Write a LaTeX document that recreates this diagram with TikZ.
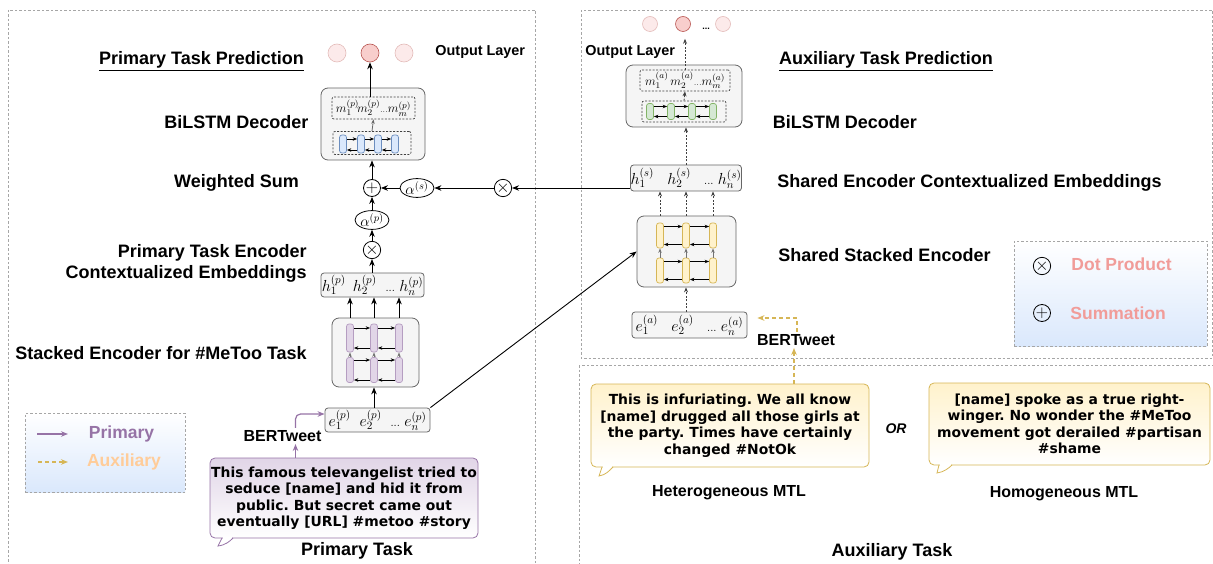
\RequirePackage{fix-cm}
\documentclass[tikz,border=0pt]{standalone}
\usepackage{fontspec}
\setmainfont{Liberation Sans}
\newfontfamily\tweetfont{DejaVu Sans}
\usetikzlibrary{shapes.geometric}
\usetikzlibrary{arrows.meta}

\definecolor{primLine}{HTML}{9673A6}
\definecolor{primFill}{HTML}{E1D5E7}
\definecolor{auxLine}{HTML}{D6B656}
\definecolor{auxFill}{HTML}{FFF2CC}
\definecolor{auxText}{HTML}{FFCC99}
\definecolor{blueFill}{HTML}{DAE8FC}
\definecolor{blueLine}{HTML}{6C8EBF}
\definecolor{greenFill}{HTML}{D5E8D4}
\definecolor{greenLine}{HTML}{82B366}
\definecolor{blockFill}{HTML}{F5F5F5}
\definecolor{blockLine}{HTML}{666666}
\definecolor{outFill}{HTML}{F8CECC}
\definecolor{outLine}{HTML}{B85450}
\definecolor{outLight}{HTML}{FCEAEA}
\definecolor{opText}{HTML}{F19C99}
\definecolor{panelLine}{HTML}{A6A6A6}

\tikzset{
  panel/.style={draw=panelLine, line width=0.6pt, dash pattern=on 2.5pt off 2pt},
  block/.style={draw=blockLine, fill=blockFill, rounded corners=7, line width=0.8pt},
  vecbox/.style={draw=blockLine, fill=blockFill, rounded corners=3, line width=0.8pt, inner sep=0, font=\fontsize{16}{16}\selectfont},
  inbox/.style={draw=black!75, line width=0.7pt, dash pattern=on 2pt off 1.5pt, rounded corners=2, inner sep=0},
  lstmcell/.style={rounded corners=2.5, line width=0.7pt, minimum width=7, inner sep=0},
  pcell/.style={lstmcell, draw=primLine!70, fill=primFill},
  ycell/.style={lstmcell, draw=auxLine, fill=auxFill},
  bcell/.style={lstmcell, draw=blueLine, fill=blueFill},
  gcell/.style={lstmcell, draw=greenLine, fill=greenFill},
  outdot/.style={circle, draw=outLine!40, fill=outLight, line width=0.6pt, inner sep=0, minimum size=18},
  outhot/.style={outdot, draw=outLine, fill=outFill},
  opnode/.style={circle, draw, line width=0.8pt, inner sep=0, minimum size=17, font=\fontsize{17}{17}\selectfont},
  wnode/.style={ellipse, draw, line width=0.8pt, inner sep=0, minimum width=34, minimum height=17, font=\fontsize{15}{15}\selectfont},
  lbl/.style={font=\bfseries\fontsize{18}{21}\selectfont, inner sep=0},
  mid lbl/.style={font=\bfseries\fontsize{16}{18}\selectfont, inner sep=0},
  small lbl/.style={font=\bfseries\fontsize{14.4}{16}\selectfont, inner sep=0},
  key lbl/.style={font=\bfseries\fontsize{17.5}{20}\selectfont, inner sep=0},
  tweet/.style={rounded corners=5, line width=0.8pt, align=center, inner sep=0, font=\tweetfont\bfseries\frenchspacing\fontsize{13.9}{16.5}\selectfont},
  ptweet/.style={tweet, draw=primLine, top color=primFill, bottom color=white},
  atweet/.style={tweet, draw=auxLine, top color=auxFill, bottom color=white},
  keybox/.style={draw=panelLine, dash pattern=on 2.5pt off 2pt, line width=0.7pt, top color=white, bottom color=blueFill},
  arr/.style={-{Stealth[length=7pt, width=5.5pt]}, line width=0.9pt},
  tiny arr/.style={-{Stealth[length=4.5pt, width=3.5pt]}, line width=0.8pt},
  dot arr/.style={-{Stealth[length=5pt, width=4pt]}, line width=0.8pt, black!75, dash pattern=on 2pt off 1.5pt},
  prim arr/.style={-{Stealth[length=7pt, width=5.5pt]}, draw=primLine, line width=1.2pt},
  aux arr/.style={-{Stealth[length=7pt, width=5.5pt]}, draw=auxLine, line width=1.2pt, dash pattern=on 4pt off 3pt},
}

\begin{document}
\begin{tikzpicture}[x=1pt, y=-1pt, line width=0.9pt]
\useasboundingbox (0,0) rectangle (1213,564);

    \draw[panel] (8,10) rectangle (535,590);
    \draw[panel] (581,10) rectangle (1212,358);
    \draw[panel] (579,365) rectangle (1214,590);

    % primary task side
    \node[lbl] (pTitle) at (201.5,61) {\underline{Primary Task Prediction}};
    \node[outdot] (pOut1) at (337,53) {};
    \node[outhot] (pOut2) at (370,53) {};
    \node[outdot] (pOut3) at (404,53) {};
    \node[small lbl, anchor=west] (pOutLbl) at (435,52) {Output Layer};

    \node[block, minimum width=104, minimum height=72] (pDec) at (373,124) {};
    \node[inbox, minimum width=83, minimum height=22, font=\fontsize{12.5}{12.5}\selectfont] (pDecOut) at (373.5,108) {$m_1^{(p)}\!m_2^{(p)}{\scriptstyle\dots}m_m^{(p)}$};
    \node[inbox, minimum width=78, minimum height=23] (pDecRnn) at (372,143) {};
    \foreach \i/\x in {1/343,2/361,3/378,4/395}
        \node[bcell, minimum height=18] (pd\i) at (\x,144) {};
    \foreach \i/\j in {1/2,2/3,3/4} {
        \draw[tiny arr] ([yshift=5]pd\i.east) -- ([yshift=5]pd\j.west);
        \draw[tiny arr] ([yshift=-6]pd\j.west) -- ([yshift=-6]pd\i.east);
    }
    \draw[tiny arr, black!60] (pDecRnn.north) -- (pDecOut.south);
    \draw[arr] (pOut2.south |- pDecOut.north) -- (pOut2.south);
    \node[lbl] (pDecLbl) at (236.5,122) {BiLSTM Decoder};

    \node[opnode] (pSum) at (372,188) {$+$};
    \node[lbl] (pSumLbl) at (236.5,183) {Weighted Sum};
    \draw[arr] (pSum) -- (pSum |- pDec.south);
    \node[wnode] (pAlpha) at (372,220) {$\alpha^{(p)}$};
    \draw[arr] (pAlpha) -- (pSum);
    \node[opnode] (pMul) at (372,250) {$\times$};
    \draw[arr] (pMul) -- (pAlpha);

    \node[lbl, anchor=east, align=right] (pHidLbl) at (307,263.5) {Primary Task Encoder\\Contextualized Embeddings};
    \node[vecbox, minimum width=103, minimum height=24] (pHid) at (372.5,285) {$h_1^{(p)}\;\, h_2^{(p)}\;\;{\scriptstyle\dots}\;h_n^{(p)}$};
    \draw[arr] (pMul |- pHid.north) -- (pMul);

    \node[block, minimum width=87, minimum height=69] (pEnc) at (375.5,352.5) {};
    \foreach \i/\x in {1/350,2/374,3/399} {
        \node[pcell, minimum height=28] (pa\i) at (\x,338) {};
        \node[pcell, minimum height=25] (pb\i) at (\x,370) {};
        \draw[tiny arr, black!55] (pb\i.north) -- (pa\i.south);
        \draw[arr] (pa\i |- pEnc.north) -- (pa\i |- pHid.south);
    }
    \foreach \i/\j in {1/2,2/3} {
        \draw[tiny arr] ([yshift=10]pa\i.east) -- ([yshift=10]pa\j.west);
        \draw[tiny arr] ([yshift=-10]pa\j.west) -- ([yshift=-10]pa\i.east);
        \draw[tiny arr] ([yshift=10]pb\i.east) -- ([yshift=10]pb\j.west);
        \draw[tiny arr] ([yshift=-10]pb\j.west) -- ([yshift=-10]pb\i.east);
    }
    \node[lbl] (pEncLbl) at (161,353) {Stacked Encoder for \#MeToo Task};

    \node[vecbox, minimum width=105, minimum height=24] (pEmb) at (377.5,420) {$e_1^{(p)}\;\; e_2^{(p)}\;\;{\scriptstyle\dots}\; e_n^{(p)}$};
    \draw[arr] (pa2 |- pEmb.north) -- (pa2 |- pEnc.south);

    \node[mid lbl] (pBert) at (282.5,436) {BERTweet};
    \coordinate (pBertS) at ([xshift=13]pBert.south);
    \coordinate (pBertN) at ([xshift=13]pBert.north);
    \node[ptweet, minimum width=268, minimum height=80] (pTweet) at (344,498) {This famous televangelist tried to\\seduce {[name]} and hid it from\\public. But secret came out\\eventually {[URL]} \#metoo \#story};
    \fill[white] (222.6,536.5) rectangle (232.4,539.5);
    \draw[draw=primLine, line width=0.8pt] (222,538) -- (218,546) .. controls (226,545) and (230,541) .. (233,538);
    \draw[prim arr, shorten >=2pt] (pBertS |- pTweet.north) -- (pBertS);
    \draw[prim arr, rounded corners=5, shorten <=2pt] (pBertN) |- ([yshift=6]pEmb.west);
    \node[lbl] (pTask) at (357,551) {Primary Task};

    \node[keybox, minimum width=160, minimum height=79] (lgPrim) at (105,452.5) {};
    \coordinate (lgPa) at (37,434);
    \coordinate (lgPb) at (68,434);
    \draw[prim arr] (lgPa) -- (lgPb);
    \node[key lbl, text=primLine] (lgPrimTxt) at (121.5,434) {Primary};
    \coordinate (lgAa) at (38,462);
    \coordinate (lgAb) at (68,462);
    \draw[aux arr] (lgAa) -- (lgAb);
    \node[key lbl, text=auxText] (lgAuxTxt) at (124,462) {Auxiliary};

    % auxiliary task side
    \node[outdot, minimum size=15] (aOut1) at (650,24) {};
    \node[outhot, minimum size=15] (aOut2) at (683,24) {};
    \node[outdot, minimum size=15] (aOut3) at (723,24) {};
    \node[font=\bfseries\fontsize{9}{9}\selectfont, inner sep=0] (aOutDots) at (706,29) {...};
    \node[small lbl, anchor=west] (aOutLbl) at (585,52) {Output Layer};
    \node[lbl] (aTitle) at (886,61) {\underline{Auxiliary Task Prediction}};

    \node[block, minimum width=116, minimum height=62] (aDec) at (684,96) {};
    \node[inbox, minimum width=90, minimum height=21, font=\fontsize{12.5}{12.5}\selectfont] (aDecOut) at (685,80.5) {$m_1^{(a)}\,m_2^{(a)}{\scriptstyle\dots}m_m^{(a)}$};
    \node[inbox, minimum width=84, minimum height=21] (aDecRnn) at (684,111.5) {};
    \foreach \i/\x in {1/650,2/671,3/692,4/713}
        \node[gcell, minimum height=16] (ad\i) at (\x,111.5) {};
    \foreach \i/\j in {1/2,2/3,3/4} {
        \draw[tiny arr] ([yshift=5]ad\i.east) -- ([yshift=5]ad\j.west);
        \draw[tiny arr] ([yshift=-5]ad\j.west) -- ([yshift=-5]ad\i.east);
    }
    \draw[dot arr] (aDecRnn.north) -- (aDecOut.south);
    \draw[dot arr, shorten >=7pt] (aDecOut.north) -- (aDecOut.north |- aOut2.south);
    \node[lbl] (aDecLbl) at (845,122) {BiLSTM Decoder};

    \node[vecbox, minimum width=110, minimum height=26] (aHid) at (686,178) {$h_1^{(s)}\;\;\; h_2^{(s)}\;\;\;{\scriptstyle\dots}\; h_n^{(s)}$};
    \draw[dot arr] (aHid.north) -- (aHid.north |- aDec.south);
    \node[lbl, anchor=west] (aHidLbl) at (777,183) {Shared Encoder Contextualized Embeddings};

    \node[block, minimum width=99, minimum height=71] (sEnc) at (686.5,251.5) {};
    \foreach \i/\x in {1/660,2/686,3/713} {
        \node[ycell, minimum height=25] (ya\i) at (\x,235.5) {};
        \node[ycell, minimum height=25] (yb\i) at (\x,270.5) {};
        \draw[tiny arr, black!55] (yb\i.north) -- (ya\i.south);
        \draw[dot arr] (ya\i |- sEnc.north) -- (ya\i |- aHid.south);
    }
    \foreach \i/\j in {1/2,2/3} {
        \draw[tiny arr] ([yshift=9]ya\i.east) -- ([yshift=9]ya\j.west);
        \draw[tiny arr] ([yshift=-9]ya\j.west) -- ([yshift=-9]ya\i.east);
        \draw[tiny arr] ([yshift=9]yb\i.east) -- ([yshift=9]yb\j.west);
        \draw[tiny arr] ([yshift=-9]yb\j.west) -- ([yshift=-9]yb\i.east);
    }
    \node[lbl, anchor=west] (sEncLbl) at (778,255) {Shared Stacked Encoder};

    \node[vecbox, minimum width=115, minimum height=26] (aEmb) at (689.5,325) {$e_1^{(a)}\;\;\; e_2^{(a)}\;\;\;{\scriptstyle\dots}\; e_n^{(a)}$};
    \draw[dot arr] (ya2 |- aEmb.north) -- (ya2 |- sEnc.south);
    \draw[arr] (pEmb.north east) -- (sEnc.west);

    \node[opnode] (sMul) at (503,188) {$\times$};
    \node[wnode] (sAlpha) at (417,188) {$\alpha^{(s)}$};
    \draw[arr] (aHid.west |- sMul) -- (sMul);
    \draw[arr] (sMul) -- (sAlpha);
    \draw[arr] (sAlpha) -- (pSum);

    \node[mid lbl] (aBert) at (796,340) {BERTweet};
    \coordinate (aBertS) at ([xshift=-2]aBert.south);
    \coordinate (aBertN) at ([xshift=1]aBert.north);
    \draw[aux arr, shorten <=2pt] (aBertN) |- ([xshift=10,yshift=7]aEmb.east);

    \node[atweet, minimum width=278, minimum height=83] (aTweet1) at (730,425.5) {This is infuriating. We all know\\{[name]} drugged all those girls at\\the party. Times have certainly\\changed \#NotOk};
    \fill[white] (602.6,465.5) rectangle (612.4,468.5);
    \draw[draw=auxLine, line width=0.8pt] (602,467) -- (599,476) .. controls (606,475) and (610,470) .. (613,467);
    \draw[aux arr, shorten >=2pt] (aBertS |- aTweet1.north) -- (aBertS);

    \node[font=\bfseries\itshape\fontsize{14}{14}\selectfont, inner sep=0] (orLbl) at (896,429) {OR};
    \node[atweet, minimum width=281, minimum height=82] (aTweet2) at (1069.5,424) {{[name]} spoke as a true right-\\winger. No wonder the \#MeToo\\movement got derailed \#partisan\\\#shame};
    \fill[white] (939.6,463.5) rectangle (951.4,466.5);
    \draw[draw=auxLine, line width=0.8pt] (939,465) -- (937,473) .. controls (944,472) and (949,468) .. (952,465);

    \node[mid lbl] (hetLbl) at (729,493) {Heterogeneous MTL};
    \node[mid lbl] (homLbl) at (1064,494) {Homogeneous MTL};
    \node[lbl] (aTask) at (892,552) {Auxiliary Task};

    \node[keybox, minimum width=193, minimum height=105] (lgOps) at (1110.5,293.5) {};
    \node[opnode] (lgMul) at (1042,266) {$\times$};
    \node[key lbl, anchor=west, text=opText] (lgMulTxt) at (1071,264) {Dot Product};
    \node[opnode] (lgSum) at (1042,313) {$+$};
    \node[key lbl, anchor=west, text=opText] (lgSumTxt) at (1070,313) {Summation};
\end{tikzpicture}
\end{document}
